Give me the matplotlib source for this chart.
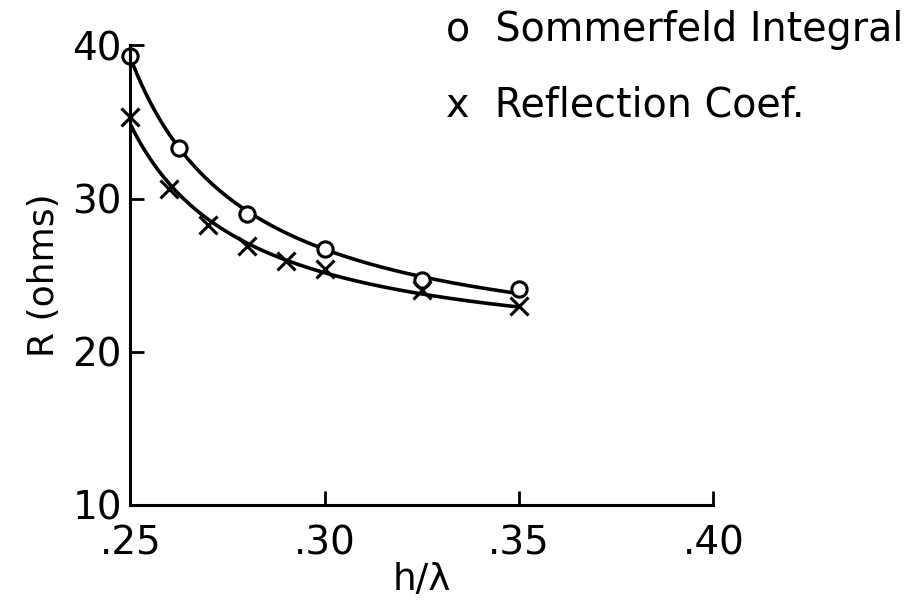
import matplotlib.pyplot as plt
import numpy as np

# Sommerfeld integral points
x_som = [0.25, 0.2625, 0.28, 0.30, 0.325, 0.35]
r_som = [39.3, 33.3, 29.0, 26.7, 24.7, 24.1]

# reflection coefficient points
x_ref = [0.25, 0.26, 0.27, 0.28, 0.29, 0.30, 0.325, 0.35]
r_ref = [35.3, 30.6, 28.3, 26.9, 25.9, 25.4, 24.0, 23.0]

x_ticks = [0.25, 0.30, 0.35, 0.40]
x_ticklabels = ['.25', '.30', '.35', '.40']
y_ticks = [10, 20, 30, 40]

fig = plt.figure(figsize=(9.11, 6.04), dpi=100)
ax = fig.add_axes([0.143, 0.164, 0.64, 0.761])

# smooth trend curves: least squares fit of R against 1/(h - 0.22)
xs = np.linspace(0.25, 0.35, 200)
for xd, yd in [(x_som, r_som), (x_ref, r_ref)]:
    c = np.polyfit(1 / (np.array(xd) - 0.22), yd, 1)
    ax.plot(xs, np.polyval(c, 1 / (xs - 0.22)), color='black', lw=2.6)

ax.plot(x_som, r_som, 'o', ms=11, mfc='white', mec='black', mew=2.2, clip_on=False)
ax.plot(x_ref, r_ref, 'x', ms=13, color='black', mew=2.2, clip_on=False)

ax.set_xlim(0.25, 0.40)
ax.set_ylim(10, 40)
ax.set_xticks(x_ticks)
ax.set_xticklabels(x_ticklabels)
ax.set_yticks(y_ticks)
for s in ['top', 'right']:
    ax.spines[s].set_visible(False)
for s in ['left', 'bottom']:
    ax.spines[s].set_linewidth(2.2)
ax.tick_params(direction='in', length=10, width=2, labelsize=28)
ax.tick_params(axis='x', pad=14)
ax.tick_params(axis='y', pad=6)

ax.set_xlabel('h/λ', fontsize=27, labelpad=0)
ax.set_ylabel('R (ohms)', fontsize=26, labelpad=8)

fig.text(0.49, 0.95, 'o  Sommerfeld Integral', fontsize=28.5, va='center')
fig.text(0.49, 0.825, 'x  Reflection Coef.', fontsize=28.5, va='center')

fig.savefig('out.png', dpi=100)
